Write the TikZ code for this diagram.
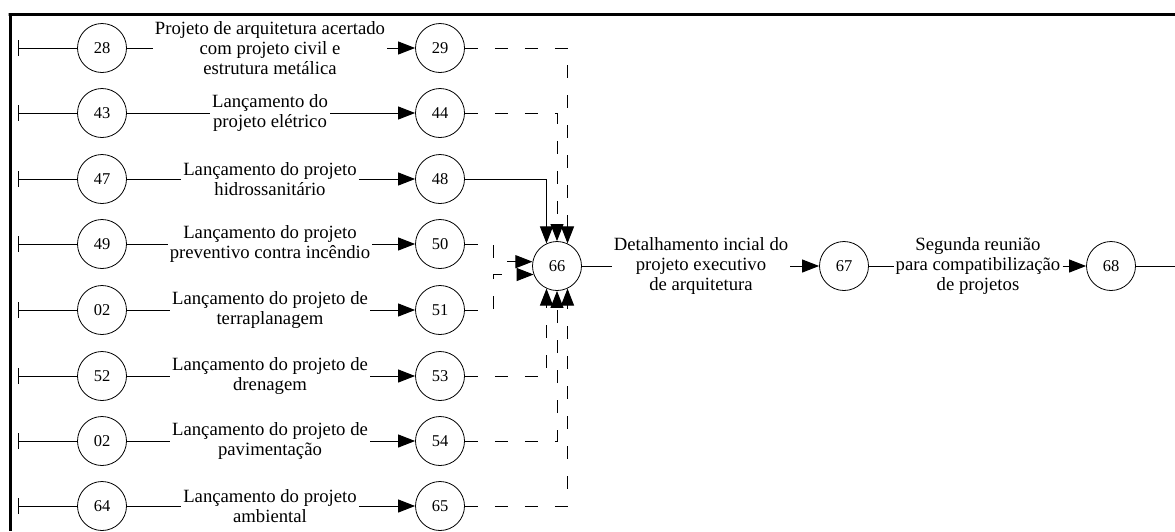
\documentclass[tikz,border=0pt]{standalone}
\usepackage{fontspec}
\setmainfont{Liberation Serif}
\usetikzlibrary{arrows.meta,calc}
\begin{document}
\begin{tikzpicture}[x=1pt,y=-1pt,
  ev/.style={circle,draw,line width=0.8pt,minimum size=49pt,inner sep=0pt,font=\fontsize{16.5}{18}\selectfont},
  lbl/.style={align=center,inner sep=2pt,font=\fontsize{18.7}{20}\selectfont},
  ln/.style={line width=1pt},
  arr/.style={ln,-{Triangle[length=17pt,width=13pt]}},
  dsh/.style={arr,dash pattern=on 13pt off 17pt},
  tickmark/.style={line width=1pt},
  frame/.style={line width=3pt}]
\useasboundingbox (0,0) rectangle (1175,531);
\coordinate (f1) at (1175,14);
\coordinate (f2) at (10,14);
\coordinate (f3) at (10,531);
\draw[frame] (f1) -- ([xshift=-1.5pt]f2) -- (f2) -- (f3);
\foreach \i/\y/\na/\nb/\txt in {
  1/48/28/29/{Projeto de arquitetura acertado\\com projeto civil e\\estrutura metálica},
  2/113/43/44/{Lançamento do\\projeto elétrico},
  3/179/47/48/{Lançamento do projeto\\hidrossanitário},
  4/244/49/50/{Lançamento do projeto\\preventivo contra incêndio},
  5/310/02/51/{Lançamento do projeto de\\terraplanagem},
  6/376/52/53/{Lançamento do projeto de\\drenagem},
  7/441/02/54/{Lançamento do projeto de\\pavimentação},
  8/506/64/65/{Lançamento do projeto\\ambiental}} {
  \coordinate (s\i) at (18,\y);
  \node[ev] (a\i) at (102,\y) {\na};
  \node[ev] (b\i) at (440,\y) {\nb};
  \node[lbl] (t\i) at (270,\y) {\txt};
  \draw[tickmark] ([yshift=8pt]s\i) -- ([yshift=-8pt]s\i);
  \draw[ln] (s\i) -- (a\i);
  \draw[ln] (a\i) -- (t\i);
  \draw[arr] (t\i) -- (b\i);
}
\node[ev] (n66) at (557,266) {66};
\draw[dsh] (b1) -- (b1 -| n66.65) -- (n66.65);
\draw[dsh] (b2) -- (b2 -| n66.north) -- (n66.north);
\draw[arr] (b3) -- (b3 -| n66.115) -- (n66.115);
\draw[dsh] (b4.east) -- ++(29,0) |- (n66.170);
\draw[dsh] (b5.east) -- ++(29,0) |- (n66.200);
\draw[dsh] (b6) -- (b6 -| n66.245) -- (n66.245);
\draw[dsh] (b7) -- (b7 -| n66.south) -- (n66.south);
\draw[dsh] (b8) -- (b8 -| n66.295) -- (n66.295);
\node[lbl] (t9) at (701,266) {Detalhamento incial do\\projeto executivo\\de arquitetura};
\node[ev] (n67) at (844,266) {67};
\node[lbl] (t10) at (978,266) {Segunda reunião\\para compatibilização\\de projetos};
\node[ev] (n68) at (1111,266) {68};
\coordinate (e) at (1175,266);
\draw[ln] (n66) -- (t9);
\draw[arr] (t9) -- (n67);
\draw[ln] (n67) -- (t10);
\draw[arr] (t10) -- (n68);
\draw[ln] (n68) -- (e);
\end{tikzpicture}
\end{document}
